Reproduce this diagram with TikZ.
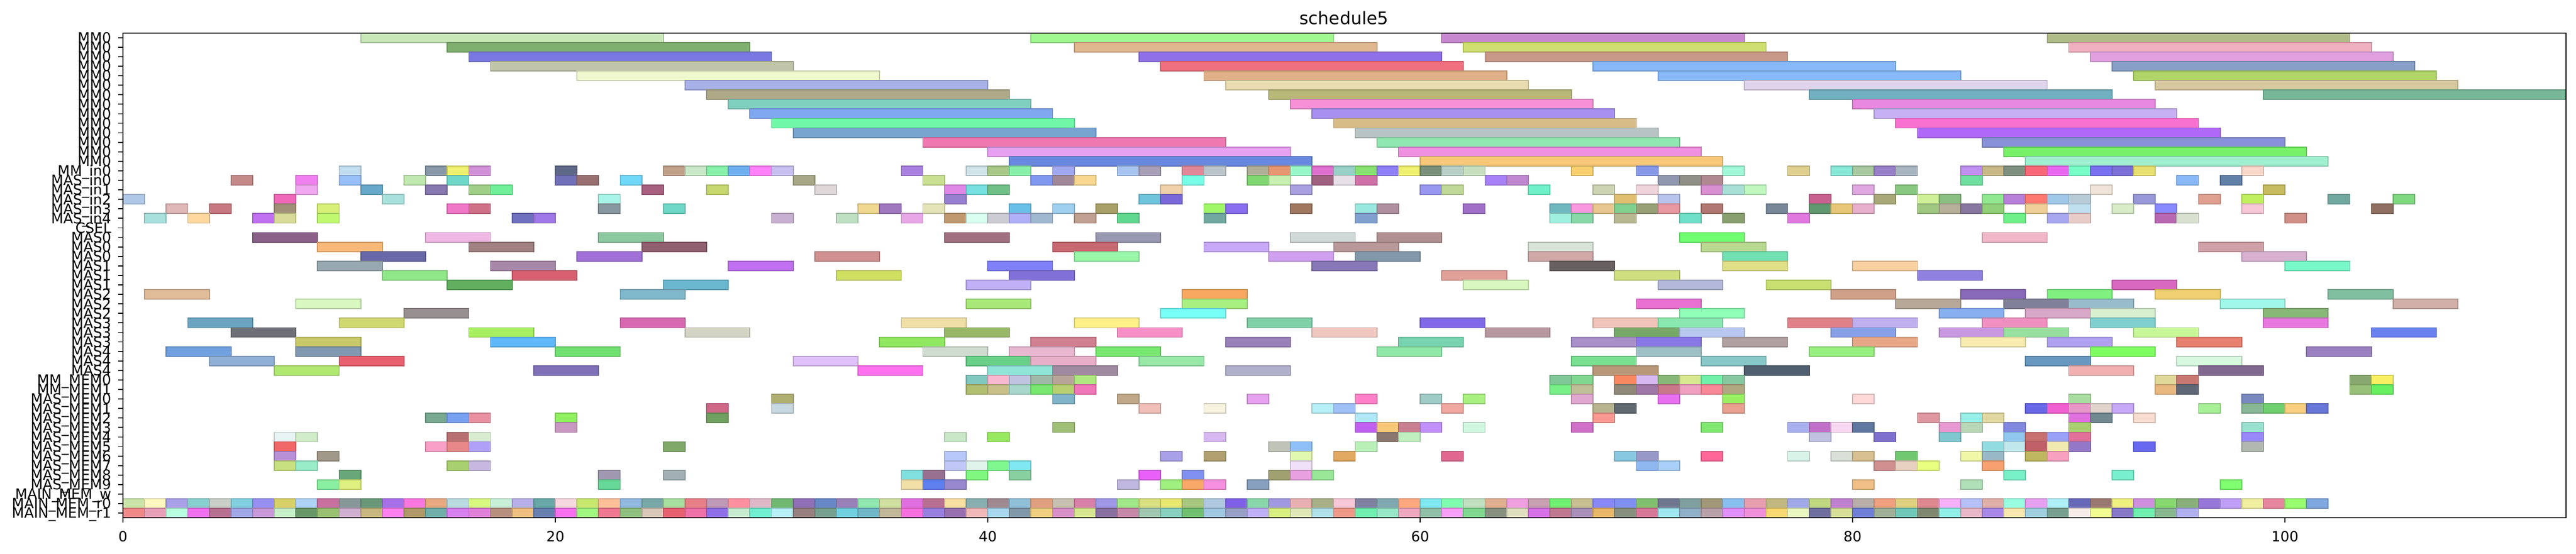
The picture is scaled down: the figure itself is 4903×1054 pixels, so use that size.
\documentclass[tikz,border=0pt]{standalone}
\usepackage{fontspec}
\setmainfont{DejaVu Sans}
\usepackage{tikz}
\usetikzlibrary{positioning}

\newcommand\ganttrow[3]{%
  \foreach \s/\c in {#3}{
    \edef\tmpcol{\noexpand\definecolor{barfill}{HTML}{\c}}\tmpcol
    \draw[gbar] (\s,-#1+0.5) rectangle ++(#2,-1);
  }}

\begin{document}
\begin{tikzpicture}[x=0.5pt,y=0.5pt,
  gbar/.style={fill=barfill, draw=barfill!82!black, line width=0.9pt},
  ylab/.style={anchor=base east, inner sep=0pt, font=\fontsize{13.5}{16}\selectfont},
  xlab/.style={anchor=north, inner sep=0pt, font=\fontsize{13.5}{16}\selectfont},
  axisline/.style={line width=1pt, line cap=rect}]
\useasboundingbox (0,0) rectangle (4903,1054);
\node[font=\fontsize{16.5}{20}\selectfont] (title) at (2558,1020) {schedule5};
\begin{scope}[shift={(234,982.3)}, x=20.575pt, y=9.045pt]
% MM0 rows
\ganttrow{0}{14}{11/C8E8B8, 42/A0F890, 61/C888D0, 89/B0BC88}
\ganttrow{1}{14}{15/80B070, 44/E0B890, 62/D0E070, 90/F0B0C0}
\ganttrow{2}{14}{16/7878E0, 47/9070E8, 63/C89888, 91/E0A0E0}
\ganttrow{3}{14}{17/C0C4A8, 48/F07080, 68/88B8F8, 92/88A0C8}
\ganttrow{4}{14}{21/F0F8D0, 50/E0B088, 71/88B8F8, 93/B0D468}
\ganttrow{5}{14}{26/A8B0E8, 51/E8DCB0, 75/E0D4EC, 94/D8C8A0}
\ganttrow{6}{14}{27/B0AA88, 53/B8B878, 78/70B0C0, 99/78B898}
\ganttrow{7}{14}{28/80D0C0, 54/F890D8, 80/E888E0}
\ganttrow{8}{14}{29/80A8F0, 55/A890F0, 81/C8B0F4}
\ganttrow{9}{14}{30/70F8A8, 56/D8BC88, 82/F870D0}
\ganttrow{10}{14}{31/78A4D0, 57/B8C4C4, 83/B068F8}
\ganttrow{11}{14}{37/F078B0, 58/90E8B0, 86/8890D8}
\ganttrow{12}{14}{40/E8A0F0, 59/F090E0, 87/78F068}
\ganttrow{13}{14}{41/6888E0, 60/F8C878, 88/A0F0D0}
% inputs
\ganttrow{14}{1}{10/C0DEF0, 14/8898A8, 15/F0F070, 16/D090D8, 20/606888, 25/C0A088, 26/C8E8C8, 27/88F0A8, 28/70B0F0, 29/FF80F8, 30/C8C0F0, 36/A880E0, 39/D0E4EA, 40/A8C888, 41/88F0A8, 43/A0A8F0, 46/A8C4F0, 47/A8A0B8, 49/E08898, 50/BCC4CC, 52/B0B098, 53/E89870, 54/98F8C8, 55/E070D0, 56/98D0C8, 57/88E070, 58/9080F8, 59/F0F070, 60/7A907A, 61/B8D0C8, 62/C8E0C0, 67/F8D070, 70/8898E8, 74/A0F8D8, 77/E0D090, 79/88E8D8, 80/A8C8A0, 81/9880C8, 82/A8B4C0, 85/C090F0, 86/C8B888, 87/809080, 88/F86878, 89/E868F0, 90/78FFC8, 91/7870F0, 92/7A70D8, 93/E8E070, 98/F8D8C8}
\ganttrow{15}{1}{5/C48A8A, 8/F080F0, 10/98C0F8, 13/C0E8B0, 15/70D8C8, 20/7070B8, 21/987070, 23/70D8F8, 31/A8A888, 37/C8E090, 42/8098F0, 43/A08898, 44/F8D890, 49/78FFE8, 52/80D870, 53/C8F0B0, 55/A06080, 56/E8E0E8, 57/D070A8, 63/A880F8, 64/C088D0, 71/9098B0, 72/909088, 73/B08890, 85/70E0A0, 95/88B8F8, 97/6080A8}
\ganttrow{16}{1}{8/F0A8F0, 11/68A8C8, 14/8878B0, 16/A0D088, 17/70F098, 24/A86080, 27/C8D870, 32/E0D8D8, 38/E088E8, 39/78E0E0, 40/70C088, 48/F0D0A8, 54/A8A0E0, 60/9898F0, 61/C0D898, 65/70F0C8, 68/CCD4B4, 70/F0D4DC, 73/D890D0, 74/A8E0D8, 75/C0F8C0, 80/E0A8E0, 82/88C880, 91/F0E4D8, 99/C8BC60}
\ganttrow{17}{1}{0/B0C8E8, 7/F068B8, 12/A8E0DC, 22/A8F4E8, 38/9880D0, 47/70C4DC, 48/7868D8, 69/E0C070, 71/B8C4EC, 78/C86090, 81/A8A878, 83/D0F098, 84/88C080, 86/90E890, 87/B880D8, 88/FF7870, 89/A0C8E8, 90/B8CCD8, 93/9898D8, 96/E0A090, 98/C0F060, 102/70A8A0, 105/80D880}
\ganttrow{18}{1}{2/E0B8B8, 4/C87880, 7/A09078, 9/D8F078, 15/F078C8, 16/D07088, 22/8898A0, 25/70D8C8, 34/F0D890, 35/A078C0, 37/E4E4B8, 41/68C0E8, 43/A0D0F0, 45/A8A068, 50/A0F868, 51/8870F0, 54/A07860, 57/98E8E0, 58/B090A0, 62/A070C8, 66/70B8C0, 67/F898E0, 68/E8C890, 69/80D090, 70/98A078, 71/E898A0, 73/B07870, 76/788898, 78/609870, 79/E8C878, 80/E8B0CC, 83/A0C880, 84/B8B098, 85/8878A0, 86/90D078, 88/F0D098, 90/C0E0F0, 92/D8ECC8, 94/8888FF, 98/F8C8D8, 104/907060}
\ganttrow{19}{1}{1/A8E0DC, 3/FFD8A0, 6/C070F0, 7/D8DC98, 9/C0F870, 18/7070C0, 19/A078E8, 30/C8B0D0, 33/C0E0C4, 36/E8A8E8, 38/C09870, 39/D8FFF0, 40/CCCCD4, 41/B0B0F8, 42/A0B8D0, 44/C0A090, 46/60D890, 50/70A8A0, 57/80A0D0, 66/A0F0E0, 67/88D8A8, 69/B8B890, 72/70E0C8, 74/88A070, 77/E078E0, 87/70F088, 89/A8A8F0, 90/E8CCC8, 94/B868B0, 95/D8E0D0, 100/D09088}
% MAS units
\ganttrow{21}{3}{6/8A6088, 14/F0B8E4, 22/8CC8A0, 38/A07080, 45/9898B0, 54/D0D8D8, 58/B09090, 72/70FF70, 86/F0B8C8}
\ganttrow{22}{3}{9/F8B878, 16/A08080, 24/906070, 43/C86870, 50/C8A8F8, 56/B89898, 65/D8E4D8, 73/B8D890, 96/D0A0A8}
\ganttrow{23}{3}{11/6868A8, 21/A070D8, 32/D09090, 44/98F8A8, 53/D0A0F0, 57/8098A8, 65/D0A8A8, 74/70E0B0, 98/D8B0D0}
\ganttrow{24}{3}{9/98A8B0, 17/A888A8, 28/C070F0, 40/8080F8, 55/8878B8, 66/686060, 74/E0E088, 80/F8D0A0, 100/78F8C8}
\ganttrow{25}{3}{12/90E888, 18/D86070, 33/D0E060, 41/8070D8, 61/E0A098, 69/D0E080, 83/9080E0}
\ganttrow{26}{3}{15/60B060, 25/6AB8D0, 39/C0B0F8, 62/D8F8C0, 71/B4B8D8, 76/C8E070, 92/D868C0}
\ganttrow{27}{3}{1/E0BC98, 23/80B8CC, 49/F8A860, 79/D0A088, 85/8868B8, 89/80F080, 94/F0D070, 102/80C0A0}
\ganttrow{28}{3}{8/D8F8C0, 39/A8E878, 49/A8F080, 70/E870D0, 82/B8A898, 87/808098, 90/98BCCC, 97/A0F8E8, 105/D0B0A8}
\ganttrow{29}{3}{13/989090, 48/78FFF8, 72/90FFB8, 84/88B0F0, 88/D8A8C8, 91/D8F0D0, 99/88B878}
\ganttrow{30}{3}{3/6AA4C0, 10/D0D870, 23/D868B0, 36/F0E0A8, 44/FFF088, 52/80D0A8, 60/8068E8, 68/F0C4B8, 71/88E8B0, 77/E08088, 80/C0B0F0, 86/F090C0, 91/80D0D0, 99/E878E0}
\ganttrow{31}{3}{5/707078, 16/A8F060, 26/D4D4C4, 38/98B868, 46/F890C8, 55/F0C8C0, 63/B898A0, 69/78A868, 72/B8C8F0, 79/88A0E8, 84/C898E0, 87/98E0A0, 93/C8F898, 104/6880F0}
\ganttrow{32}{3}{8/C8C868, 17/60B8F8, 35/90E860, 42/D08090, 51/9880B8, 59/78D4B0, 67/A890C8, 70/8878E8, 74/B0A0A0, 80/E8A888, 85/F8ECB0, 89/B0A0F0, 95/E88070}
\ganttrow{33}{3}{2/70A0E0, 8/8098B0, 20/70E070, 37/D0DCD0, 41/E8B8D0, 45/78E870, 58/90E8A8, 70/A0C0C8, 78/98F080, 91/80FF60, 101/9A80C0}
\ganttrow{34}{3}{4/90B0D8, 10/E86070, 31/E0C0F8, 39/68D088, 42/E8B0C8, 47/98E8A8, 67/78E090, 73/88C8C8, 88/6898C0, 95/D8F8E0}
\ganttrow{35}{3}{7/B0E870, 19/8070B8, 34/FF70F0, 40/90E4D8, 43/A08AA0, 51/B0B0CC, 68/B89878, 75/506070, 90/F0B0B0, 96/806890}
% memories
\ganttrow{36}{1}{39/80C8C0, 40/F8B8D0, 41/C0C4E0, 42/A0B8A8, 43/B8A498, 44/B0E880, 66/80C898, 67/80D890, 69/F88860, 70/D8B8F0, 71/88B878, 72/D8E890, 73/70F0A8, 74/88C8A0, 94/E0D898, 95/C87870, 103/88A870, 104/F8F060}
\ganttrow{37}{1}{39/B0C070, 40/C8C088, 41/A8D8CC, 42/78E870, 43/B8D070, 44/F078B8, 66/78F088, 67/C0C098, 69/908878, 70/A078A8, 71/C87888, 72/F0A0C0, 73/F88898, 74/B0A880, 94/E8B880, 95/606878, 103/98C078, 104/68F060}
\ganttrow{38}{1}{30/B0B070, 43/80B4C8, 46/C0A888, 52/E8A0F0, 57/FF80C8, 60/A0CCC8, 62/A8F080, 67/E0A8D0, 71/E870F0, 74/98F060, 80/FFD8D8, 90/A8DCA0, 98/7888C0}
\ganttrow{39}{1}{27/D06888, 30/C8D8E0, 47/F0C0B8, 50/F8F4E0, 55/B8F0F8, 56/A0C0F8, 61/F0A8A0, 68/B8B490, 69/606870, 74/E8A090, 88/6868E8, 89/F060D0, 90/E898C8, 91/E0D4CC, 92/C8A8F8, 96/A8F098, 98/88B898, 99/70D070, 100/F8D080, 101/6878D8}
\ganttrow{40}{1}{14/78A890, 15/78A0F0, 16/E890A0, 20/90F060, 27/70A060, 57/B0E8F8, 68/F89890, 83/E098A0, 85/98F0E8, 86/E0D8A0, 90/E070E0, 91/708890, 93/F8DCD0}
\ganttrow{41}{1}{20/C898C0, 43/A0C078, 57/C060F0, 58/F8C878, 59/C88090, 60/C090F8, 62/D0F8E0, 67/D070C8, 73/80E870, 77/A8B0F0, 78/C070C8, 79/F8D8F0, 80/6078A0, 84/E898D0, 85/B8D8B8, 87/8088E0, 90/A8D070, 98/98E0D0}
\ganttrow{42}{1}{7/E8F4F4, 8/D0ECC8, 15/B87070, 16/D8ECD0, 38/C8E8C8, 40/98E860, 50/D8B8F0, 58/8A7870, 59/C0F0C0, 78/C0C0E0, 81/8070D0, 84/80C8D0, 87/90C8F0, 88/C87070, 89/98A0F8, 90/E07098, 98/9888F8}
\ganttrow{43}{1}{7/F06868, 14/F8A0C8, 15/E88888, 16/B0A0F8, 25/80A868, 53/C0C4B8, 54/90C0F8, 57/B8F0B8, 86/90DCE0, 87/C0E8EC, 88/C06068, 89/F0EAB0, 90/9478C8, 93/6868F0, 98/B0B8B0}
\ganttrow{44}{1}{7/B890D8, 9/A09888, 38/B8C8F8, 48/A8A0E8, 50/B0A070, 54/E0F8B0, 56/E0A860, 61/E06890, 69/88C8E0, 70/9898C8, 73/FF6898, 77/D8F4E8, 79/D8E0D8, 80/D8C090, 82/70C870, 85/F0F8A8, 86/98B8C8, 88/C0B860, 89/F8A0C0}
\ganttrow{45}{1}{7/C8E080, 8/98ECC8, 15/A8D070, 16/C8B8E0, 38/C0C8F8, 39/E0F4EC, 40/80F890, 41/80E8F0, 54/F0E0F8, 70/90B8F0, 71/A8D0F8, 81/D09090, 82/E8D0C0, 83/E8FF80, 86/F8A070}
\ganttrow{46}{1}{10/68A878, 22/A098B0, 25/A0B0B4, 36/80E0E0, 37/987090, 39/80F880, 41/88D0A0, 47/E860F8, 49/8090F0, 53/A0A070, 54/E8A0E0, 55/98E898, 87/78F0C8, 92/78F0D0}
\ganttrow{47}{1}{9/88F0A0, 10/E0F080, 22/68D898, 36/F0E0A8, 37/6080F0, 38/9888D0, 46/C0B8E0, 48/A0F080, 49/F8A868, 50/F890E0, 52/88A0C0, 80/F0C088, 85/B0E0B8, 97/80FF70}
\ganttrow{49}{1}{0/C8E4A8, 1/FFF8C0, 2/A8A0E8, 3/88D0D0, 4/C8D0C8, 5/80D0E0, 6/9890F0, 7/D8D068, 8/B0D4F8, 9/C870A0, 10/889898, 11/689878, 12/A870E8, 13/F878E0, 14/E8A880, 15/B8DCE0, 16/D8F880, 17/C8F0D8, 18/B8B0E8, 19/68A8A8, 20/F8D8E0, 21/C8E870, 22/FFC098, 23/90B8E0, 24/78A8A8, 25/A8E0A0, 26/E88088, 27/C098B8, 28/FF90A0, 29/E0B8C8, 30/70B870, 31/9070B8, 32/6888C8, 33/9A80B8, 34/90E8B0, 35/D0E0A0, 36/E070E0, 37/B87090, 38/F8E0A0, 39/88B0B0, 40/A08890, 41/90C0D8, 42/E0A080, 43/C8C0B0, 44/D880A8, 45/A098E8, 46/A0E888, 47/D8E080, 48/E8E870, 49/A8C880, 50/B0C8E0, 51/8060E8, 52/88D8A8, 53/A098E0, 54/E8B0B0, 55/A8B088, 56/F8C8D8, 57/8080A0, 58/80A8B0, 59/FFA880, 60/80E8F0, 61/80FFB0, 62/C0E0C0, 63/E0B090, 64/F0A0E0, 65/C8A0B0, 66/70F070, 67/C8C090, 68/8888F8, 69/8090F0, 70/80C070, 71/707890, 72/80A0A0, 73/A09878, 74/88C0F0, 75/E8A0B0, 76/C0B880, 77/A0A8E8, 78/C0D880, 79/C080D0, 80/B8B0A8, 81/F0A080, 82/E0D080, 83/E08890, 84/F8B0F8, 85/B8C0F8, 86/E0B0A8, 87/98FFE0, 88/E8A0F0, 89/B0F0F8, 90/6868B8, 91/987870, 92/F0F080, 93/D090E0, 94/88D870, 95/88B078, 96/9878D8, 97/C0A0F8, 98/F0F0A0, 99/E888A0, 100/98FF70, 101/80A8E0}
\ganttrow{50}{1}{0/F08888, 1/E8A0B8, 2/B8FFE0, 3/F070F0, 4/B87090, 5/A0A8E8, 6/C898D8, 7/C8F0C8, 8/689868, 9/98C070, 10/D0B0D0, 11/C8B880, 12/FF80F0, 13/B09868, 14/70B0A8, 15/D880F0, 16/E080D8, 17/B89080, 18/F0C080, 19/6880B0, 20/F870F0, 21/A0F880, 22/F07890, 23/90C080, 24/D8C8B8, 25/E86070, 26/F070A8, 27/9070E8, 28/C8ECD0, 29/70F0D0, 30/B8F0F8, 31/988080, 32/78A090, 33/70D0E0, 34/70B8C8, 35/C0B898, 36/F870E0, 37/9880E0, 38/9870B0, 39/F0B8B8, 40/A8D8F0, 41/8098A8, 42/F0D080, 43/D890C8, 44/D8E890, 45/8870A0, 46/C888A8, 47/A0C8B0, 48/88D0C0, 49/70C070, 50/A0C8E0, 51/98A0C8, 52/C0B0F8, 53/D8F080, 54/E0E8B8, 55/B0E0E8, 56/F09888, 57/70F0B0, 58/98E8C8, 59/F0A8C0, 60/90C0A8, 61/F8A0F8, 62/80D890, 63/889080, 64/E0E0C0, 65/D870E8, 66/C07890, 67/A890B8, 68/E8B868, 69/889080, 70/D87898, 71/A0E8F0, 72/90B0C8, 73/B8A0A8, 74/E090F8, 75/F090D8, 76/F8D870, 77/E8F8C0, 78/7070A0, 79/D8E098, 80/7080D8, 81/A0B098, 82/70C8B8, 83/808870, 84/90F0E8, 85/E8B8C8, 86/A888E8, 87/F8E8B0, 88/A0D0E0, 89/78A090, 90/F8ECE8, 91/F0FF90, 92/8878C8, 93/70F0B0, 94/88B890, 95/B0B0F0}
% axes
\draw[axisline] (0,0.5) rectangle (113,-50.5);
\foreach \lab [count=\r from 0] in {MM0,MM0,MM0,MM0,MM0,MM0,MM0,MM0,MM0,MM0,MM0,MM0,MM0,MM0,MM\_in0,MAS\_in0,MAS\_in1,MAS\_in2,MAS\_in3,MAS\_in4,CSEL,MAS0,MAS0,MAS0,MAS1,MAS1,MAS1,MAS2,MAS2,MAS2,MAS3,MAS3,MAS3,MAS4,MAS4,MAS4,MM\_MEM0,MM\_MEM1,MAS\_MEM0,MAS\_MEM1,MAS\_MEM2,MAS\_MEM3,MAS\_MEM4,MAS\_MEM5,MAS\_MEM6,MAS\_MEM7,MAS\_MEM8,MAS\_MEM9,MAIN\_MEM\_w,MAIN\_MEM\_r0,MAIN\_MEM\_r1}{
  \draw[line width=0.9pt] (0,-\r) -- ++(-4.6pt,0);
  \node[ylab] (ylab\r) at ([xshift=-11pt,yshift=-4.9pt]0,-\r) {\lab};
}
\foreach \t in {0,20,...,100}{
  \draw[line width=0.9pt] (\t,-50.5) -- ++(0,-4.6pt);
  \node[xlab] (xlab\t) at ([yshift=-12.2pt]\t,-50.5) {\t};
}
\end{scope}
\end{tikzpicture}
\end{document}
